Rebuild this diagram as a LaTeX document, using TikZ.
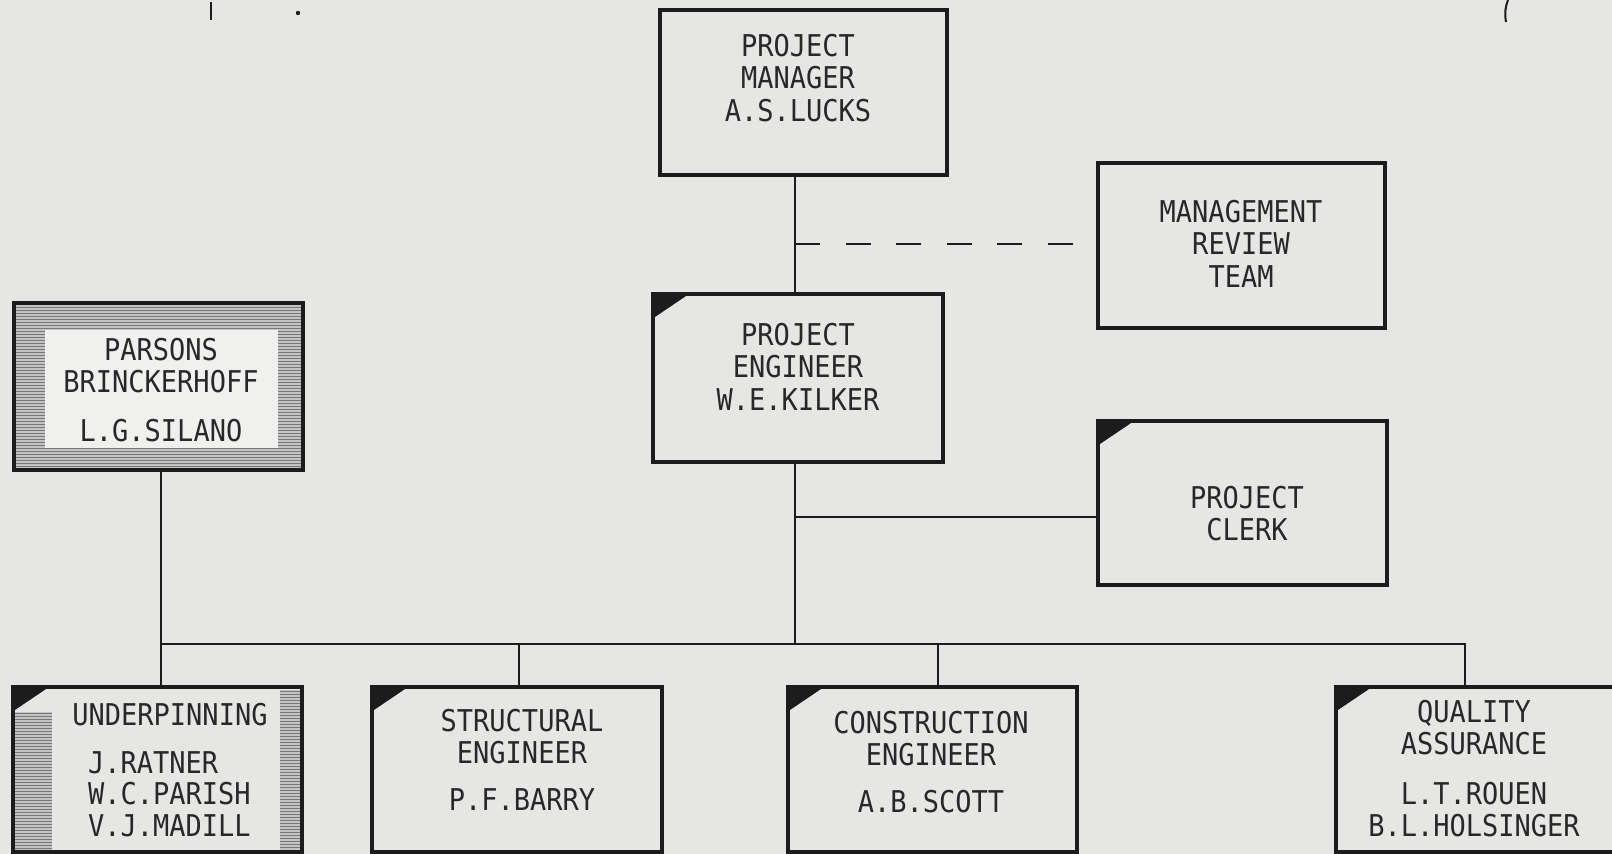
\documentclass[tikz,border=0pt]{standalone}
\usepackage{fontspec}
\newfontfamily\chartfont{DejaVu Sans Mono}[FakeStretch=0.9]
\definecolor{paper}{RGB}{230,230,228}
\definecolor{inner}{RGB}{240,240,238}
\definecolor{ink}{RGB}{28,28,28}
\definecolor{txtink}{RGB}{40,40,40}
\definecolor{hatchbg}{RGB}{195,195,195}
\definecolor{hatchln}{RGB}{120,120,120}
\begin{document}
\begin{tikzpicture}[x=1pt,y=-1pt,
  orgbox/.style={draw=ink,line width=3.2pt,rectangle,inner sep=0pt,minimum width=289pt,minimum height=165pt},
  lbl/.style={anchor=north,inner sep=0pt,align=center,text=txtink,font=\chartfont\fontsize{30}{32.5}\selectfont},
  conn/.style={draw=ink,line width=2.6pt},
  dashconn/.style={draw=ink,line width=2.6pt,dash pattern=on 25.25pt off 25.25pt},
  cornermark/.style={fill=ink},
  hatchline/.style={draw=hatchln,line width=1.2pt}]
\fill[paper] (0,0) rectangle (1612,854);
\useasboundingbox (0,0) rectangle (1612,854);
\clip (0,0) rectangle (1612,854);

% stray scan marks
\draw[ink,line width=2pt] (211,2) -- (211,20);
\fill[ink] (298,13) circle (2.2);
\draw[ink,line width=2pt] (1508,0) to[bend right=15] (1506,22);

% hatched band of Parsons Brinckerhoff
\fill[hatchbg] (14,303) rectangle (303,470);
\foreach \yy in {304.5,307.5,...,469} \draw[hatchline] (14,\yy) -- (303,\yy);
\fill[inner] (45,330) rectangle (278,448);

% hatched sides of Underpinning
\fill[hatchbg] (14,712) rectangle (52,852);
\foreach \yy in {713.5,716.5,...,851} \draw[hatchline] (14,\yy) -- (52,\yy);
\fill[hatchbg] (280,690) rectangle (301,852);
\foreach \yy in {691.5,694.5,...,851} \draw[hatchline] (280,\yy) -- (301,\yy);

% boxes
\node[orgbox,minimum width=287pt] (pm) at (803.5,92.5) {};
\node[orgbox,minimum width=287pt] (mrt) at (1241.5,245.5) {};
\node[orgbox,minimum width=290pt,minimum height=168pt] (pe) at (798,378) {};
\node[orgbox,minimum height=167pt] (pb) at (158.5,386.5) {};
\node[orgbox,minimum height=164pt] (clerk) at (1242.5,503) {};
\node[orgbox] (und) at (157.5,769.5) {};
\node[orgbox,minimum width=290pt] (str) at (517,769.5) {};
\node[orgbox] (con) at (932.5,769.5) {};
\node[orgbox] (qa) at (1480.5,769.5) {};

% corner marks
\foreach \b in {pe,clerk,und,str,con,qa}
  \fill[cornermark] (\b.north west) -- ++(40,0) -- ++(-40,27) -- cycle;

% texts
\node[lbl] (pmt) at (798,34) {PROJECT\\MANAGER\\A.S.LUCKS};
\node[lbl] (mrtt) at (1241,200) {MANAGEMENT\\REVIEW\\TEAM};
\node[lbl] (pet) at (798,323) {PROJECT\\ENGINEER\\W.E.KILKER};
\node[lbl] (pbt) at (161,338) {PARSONS\\BRINCKERHOFF\\[16pt]L.G.SILANO};
\node[lbl] (clerkt) at (1247,486) {PROJECT\\CLERK};
\node[lbl] (undt) at (170,703) {UNDERPINNING};
\node[lbl,anchor=north west,align=left,font=\chartfont\fontsize{30}{31.5}\selectfont] (undn) at (88,751) {J.RATNER\\W.C.PARISH\\V.J.MADILL};
\node[lbl] (strt) at (522,709) {STRUCTURAL\\ENGINEER\\[14pt]P.F.BARRY};
\node[lbl] (cont) at (931,711) {CONSTRUCTION\\ENGINEER\\[14pt]A.B.SCOTT};
\node[lbl] (qat) at (1474,700) {QUALITY\\ASSURANCE\\[17pt]L.T.ROUEN\\B.L.HOLSINGER};

% connector coordinates
\coordinate (spine) at (795,500);
\coordinate (rv) at (900,244);
\coordinate (cl) at (900,517);
\coordinate (d1) at (161,644);
\coordinate (d2) at (519,644);
\coordinate (d3) at (938,644);
\coordinate (d4) at (1465,644);

% connectors
\draw[conn] (pm.south -| spine) -- (pe.north -| spine);
\draw[dashconn] (spine |- rv) -- (mrt.west |- rv);
\draw[conn] (pe.south -| spine) -- (spine |- d1);
\draw[conn] (spine |- cl) -- (clerk.west |- cl);
\draw[conn] (pb.south -| d1) -- (und.north -| d1);
\draw[conn] (d1) -- (d4) -- (qa.north -| d4);
\draw[conn] (d2) -- (str.north -| d2);
\draw[conn] (d3) -- (con.north -| d3);
\end{tikzpicture}
\end{document}
